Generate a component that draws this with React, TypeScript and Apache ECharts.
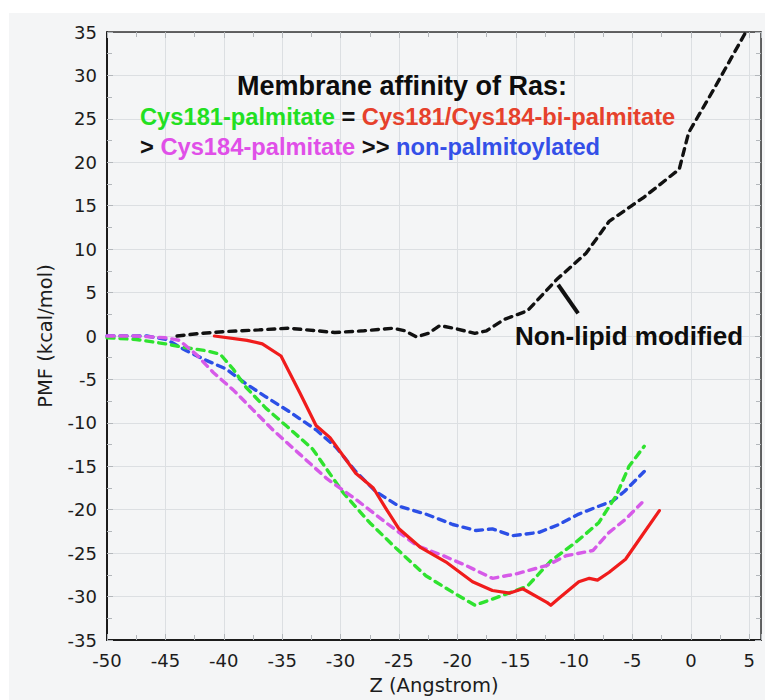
import React, { useEffect, useRef } from "react";
import * as echarts from "echarts";

// Z (Angstrom) vs PMF (kcal/mol)
const nonLipidModified: [number, number][] = [
  [-44, 0], [-42, 0.3], [-40, 0.5], [-37, 0.7], [-34.5, 0.9], [-32, 0.6], [-30.5, 0.4],
  [-28, 0.6], [-25.5, 0.9], [-24.5, 0.6], [-23.5, -0.1], [-22.5, 0.3], [-21.5, 1.2],
  [-20, 0.8], [-18.5, 0.3], [-17.5, 0.6], [-16, 1.9], [-14, 2.9], [-12.4, 5.2],
  [-11.5, 6.5], [-9, 9.5], [-7, 13.2], [-4, 16], [-1, 19.2], [-0.2, 23.4], [2, 28.5], [4.7, 35],
];

const nonPalmitoylated: [number, number][] = [
  [-50, 0], [-47.5, 0], [-46.6, 0], [-44.9, -0.4], [-43.2, -1.7], [-41.5, -2.8], [-39.8, -3.8],
  [-38.1, -5.5], [-36.4, -7], [-34.4, -8.7], [-32.1, -10.8], [-30.4, -12.8], [-28.7, -15.6],
  [-27, -17.9], [-25, -19.6], [-22.7, -20.5], [-20.4, -21.7], [-18.4, -22.4], [-17, -22.2],
  [-15.3, -23], [-13, -22.6], [-11.3, -21.7], [-9.6, -20.5], [-7.9, -19.6], [-6.7, -19],
  [-5.7, -17.9], [-4, -15.6],
];

const cys181Palmitate: [number, number][] = [
  [-50, -0.2], [-47.5, -0.4], [-45, -0.9], [-43.5, -1.3], [-41.5, -1.7], [-40.3, -2.1],
  [-39.2, -3.8], [-38.1, -5.9], [-36.4, -8.3], [-34.6, -10.4], [-32.4, -13], [-29.8, -18],
  [-27.5, -21.5], [-25.2, -24.5], [-22.7, -27.6], [-20.4, -29.5], [-18.5, -31], [-16.4, -30],
  [-14, -28.8], [-12, -25.9], [-9.9, -23.8], [-7.9, -21.5], [-6.4, -18.4], [-5.3, -15], [-4, -12.7],
];

const cys184Palmitate: [number, number][] = [
  [-50, 0], [-47.5, 0], [-45, -0.2], [-43.8, -0.5], [-42.3, -2.2], [-40.9, -4.2], [-39.2, -6.2],
  [-37.5, -8.5], [-35.8, -10.8], [-33.5, -13.6], [-31.2, -16.4], [-28.7, -18.8], [-26.1, -21.5],
  [-23.5, -24.1], [-21.2, -25.3], [-19.3, -26.4], [-17, -27.9], [-15, -27.4], [-12.3, -26.4],
  [-10.7, -25.3], [-8.4, -24.7], [-7, -22.6], [-5.6, -21.1], [-4.2, -19.2],
];

const biPalmitate: [number, number][] = [
  [-40.8, 0], [-38, -0.5], [-36.7, -0.9], [-35.1, -2.3], [-33.5, -6.5], [-32.1, -10.3],
  [-30.9, -11.7], [-28.7, -15.8], [-27.2, -17.5], [-26.1, -19.9], [-25, -22.2], [-23.2, -24.3],
  [-21, -26], [-18.7, -28.3], [-17, -29.3], [-15.5, -29.6], [-14.4, -29.1], [-12.3, -30.7],
  [-12, -31], [-11.3, -30.2], [-9.6, -28.3], [-8.7, -27.9], [-8, -28.1], [-7, -27.2],
  [-5.6, -25.7], [-4.2, -23], [-2.7, -20.1],
];

const leaderLine: [number, number][] = [[-11.37, 5.9], [-9.66, 2.6]];

const xRange = [-50, 6];
const yRange = [-35, 35];
const tickStep = 5;

const titleLine1 = "Membrane affinity of Ras:";
const annotation = "Non-lipid modified";

const TICK_FONT = "DejaVu Sans";
const TEXT_FONT = "Liberation Sans";

export default function App() {
  const ref = useRef<HTMLDivElement>(null);

  useEffect(() => {
    if (!ref.current) return;
    const chart = echarts.init(ref.current, null, { renderer: "svg" });

    const tickColor = "#b3b7bb";
    const gridColor = "#dcdfe2";
    const axisColor = "#1c1c1c";
    const isMajor = (v: number) => Math.abs(v % tickStep) < 1e-9;

    const baseX = {
      type: "value" as const,
      min: xRange[0],
      max: xRange[1],
      interval: tickStep,
    };
    const baseY = {
      type: "value" as const,
      min: yRange[0],
      max: yRange[1],
      interval: tickStep,
    };

    const line = (name: string, data: [number, number][], color: string, dash: boolean, z: number, extra: any = {}) => ({
      name,
      type: "line",
      data,
      symbol: "none",
      showSymbol: false,
      z,
      lineStyle: dash
        ? { color, width: 3.4, type: [7, 6], cap: "round" }
        : { color, width: 3.2, type: "solid", cap: "round", join: "round" },
      ...extra,
    });

    const richBase = { fontFamily: TEXT_FONT, fontWeight: "bold", fontSize: 23.7 };

    chart.setOption({
      animation: false,
      backgroundColor: "transparent",
      grid: { left: 107, right: 4, top: 32, bottom: 55, containLabel: false },
      xAxis: [
        {
          ...baseX,
          position: "bottom",
          name: "Z (Angstrom)",
          nameLocation: "middle",
          nameGap: 35,
          nameTextStyle: { fontFamily: TICK_FONT, fontSize: 19.5, color: axisColor },
          axisLine: { show: true, onZero: false, lineStyle: { color: axisColor, width: 2 } },
          axisTick: { show: true, inside: true, length: 6, lineStyle: { color: tickColor } },
          minorTick: { show: true, splitNumber: 2, length: 5, lineStyle: { color: tickColor } },
          splitLine: { show: true, lineStyle: { color: gridColor, width: 1 } },
          axisLabel: {
            fontFamily: TICK_FONT,
            fontSize: 18,
            color: axisColor,
            margin: 11,
            formatter: (v: number) => (isMajor(v) ? String(v) : ""),
          },
        },
        {
          ...baseX,
          position: "top",
          axisLine: { show: true, onZero: false, lineStyle: { color: "#333", width: 1.5 } },
          axisTick: { show: true, inside: true, length: 6, lineStyle: { color: tickColor } },
          minorTick: { show: true, splitNumber: 2, length: 5, lineStyle: { color: tickColor } },
          splitLine: { show: false },
          axisLabel: { show: false },
        },
      ],
      yAxis: [
        {
          ...baseY,
          position: "left",
          name: "PMF (kcal/mol)",
          nameLocation: "middle",
          nameGap: 52,
          nameRotate: 90,
          nameTextStyle: { fontFamily: TICK_FONT, fontSize: 19.5, color: axisColor },
          axisLine: { show: true, onZero: false, lineStyle: { color: axisColor, width: 2 } },
          axisTick: { show: true, inside: true, length: 6, lineStyle: { color: tickColor } },
          minorTick: { show: true, splitNumber: 2, length: 5, lineStyle: { color: tickColor } },
          splitLine: { show: true, lineStyle: { color: gridColor, width: 1 } },
          axisLabel: { fontFamily: TICK_FONT, fontSize: 18, color: axisColor, margin: 10 },
        },
        {
          ...baseY,
          position: "right",
          axisLine: { show: true, onZero: false, lineStyle: { color: "#333", width: 1.5 } },
          axisTick: { show: true, inside: true, length: 6, lineStyle: { color: tickColor } },
          minorTick: { show: true, splitNumber: 2, length: 5, lineStyle: { color: tickColor } },
          splitLine: { show: false },
          axisLabel: { show: false },
        },
      ],
      series: [
        line("Non-lipid modified", nonLipidModified, "#111111", true, 2, {
          markLine: {
            silent: true,
            symbol: ["none", "none"],
            label: { show: false },
            lineStyle: { color: "#111111", width: 4, type: "solid" },
            data: [[{ coord: leaderLine[0] }, { coord: leaderLine[1] }]],
          },
        }),
        line("non-palmitoylated", nonPalmitoylated, "#2c4fe6", true, 3),
        line("Cys181-palmitate", cys181Palmitate, "#2fe22f", true, 4),
        line("Cys184-palmitate", cys184Palmitate, "#d65ae8", true, 5),
        line("Cys181/Cys184-bi-palmitate", biPalmitate, "#f01c1c", false, 6),
      ],
      graphic: [
        {
          type: "text",
          z: 100,
          x: 237,
          y: 86,
          style: {
            text: titleLine1,
            fill: "#0d0d0d",
            font: `bold 27px "${TEXT_FONT}"`,
            align: "left",
            verticalAlign: "middle",
          },
        },
        {
          type: "text",
          z: 100,
          x: 140,
          y: 117,
          style: {
            text: "{g|Cys181-palmitate} {k|=} {r|Cys181/Cys184-bi-palmitate}",
            font: `bold 23.7px "${TEXT_FONT}"`,
            fill: "#111",
            align: "left",
            verticalAlign: "middle",
            rich: {
              g: { ...richBase, fill: "#22e022", color: "#22e022" },
              k: { ...richBase, fill: "#111", color: "#111" },
              r: { ...richBase, fill: "#e6412c", color: "#e6412c" },
            },
          },
        },
        {
          type: "text",
          z: 100,
          x: 140,
          y: 147,
          style: {
            text: "{k|>} {m|Cys184-palmitate} {k|>>} {b|non-palmitoylated}",
            font: `bold 23.7px "${TEXT_FONT}"`,
            fill: "#111",
            align: "left",
            verticalAlign: "middle",
            rich: {
              k: { ...richBase, fill: "#111", color: "#111" },
              m: { ...richBase, fill: "#e04fe8", color: "#e04fe8" },
              b: { ...richBase, fill: "#3450e8", color: "#3450e8" },
            },
          },
        },
        {
          type: "text",
          z: 100,
          x: 515,
          y: 336,
          style: {
            text: annotation,
            fill: "#0d0d0d",
            font: `bold 26px "${TEXT_FONT}"`,
            align: "left",
            verticalAlign: "middle",
          },
        },
      ],
    });

    return () => chart.dispose();
  }, []);

  return (
    <div style={{ position: "fixed", left: 0, top: 0, width: 765, height: 700, background: "#ffffff" }}>
      <div style={{ position: "absolute", left: 9, top: 13, right: 0, bottom: 0, background: "#f4f5f6" }} />
      <div ref={ref} style={{ position: "absolute", left: 0, top: 0, width: 765, height: 700 }} />
    </div>
  );
}
